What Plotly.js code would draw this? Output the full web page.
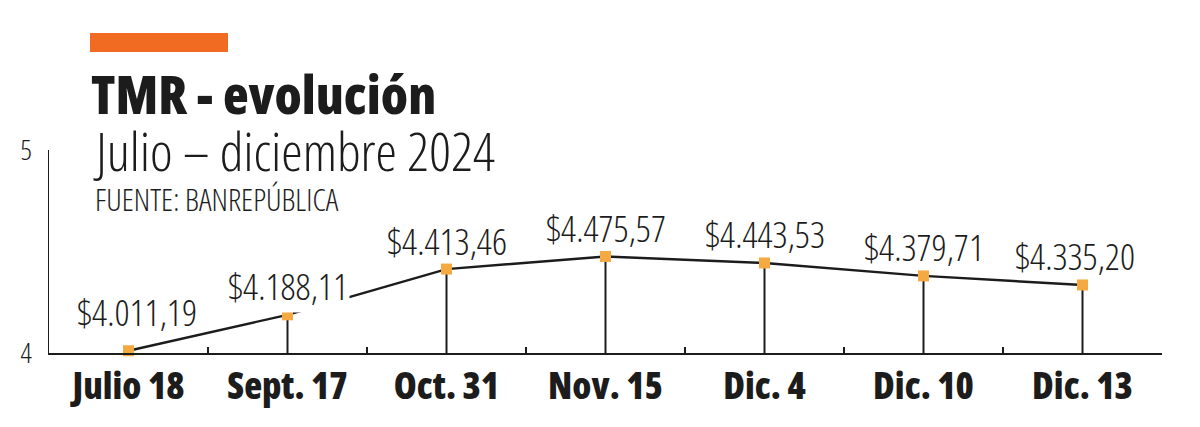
<!DOCTYPE html>
<html>
<head>
<meta charset="utf-8">
<script src="https://cdn.plot.ly/plotly-3.0.1.min.js"></script>
<style>
  html, body { margin: 0; padding: 0; background: #ffffff; }
  #chart { width: 1200px; height: 427px; }
</style>
</head>
<body>
<div id="chart"></div>
<script>
// ---- Data ----
const categories = ["Julio 18", "Sept. 17", "Oct. 31", "Nov. 15", "Dic. 4", "Dic. 10", "Dic. 13"];
const tmrPesos = [4011.19, 4188.11, 4413.46, 4475.57, 4443.53, 4379.71, 4335.20];
const yTickVals = [4, 5];
const yTickText = ["4", "5"];
const titleText = "TMR - evolución";
const subtitleText = "Julio – diciembre 2024";
const sourceText = "FUENTE: BANREPÚBLICA";

// ---- Helpers ----
function fmtCOP(v) {
  const parts = v.toFixed(2).split(".");
  const intPart = parts[0].replace(/\B(?=(\d{3})+(?!\d))/g, ".");
  return "$" + intPart + "," + parts[1];
}
function narrow(txt) {
  return '<span style="font-stretch:75%">' + txt + '</span>';
}
const yThousands = tmrPesos.map(v => v / 1000);
const baseY = yTickVals[0];

const FONT = "'Open Sans', 'Noto Sans', sans-serif";
const INK = "#1c1c1c";

// Plot area in pixels: x 49..1162, y 150..353
const L = 49, R = 1200 - 1162, T = 150, B = 427 - 353;
const PW = 1200 - L - R, PH = 427 - T - B;
const px = x => (x - L) / PW;
const py = y => (353 - y) / PH;

const traces = [
  {
    type: "scatter",
    mode: "lines+markers",
    x: categories,
    y: yThousands,
    line: { color: INK, width: 2.4 },
    marker: { symbol: "square", size: 11, color: "#F4A941" },
    error_y: {
      type: "data",
      symmetric: false,
      array: yThousands.map(() => 0),
      arrayminus: yThousands.map(v => v - baseY),
      width: 0,
      thickness: 2,
      color: INK
    },
    cliponaxis: false,
    hoverinfo: "skip"
  }
];

const annotations = categories.map((c, i) => ({
  x: c,
  y: yThousands[i],
  xref: "x",
  yref: "y",
  text: narrow(fmtCOP(tmrPesos[i])),
  showarrow: false,
  xanchor: "center",
  yanchor: "middle",
  yshift: i === 0 ? 39 : 29,
  xshift: i === 0 ? 8 : (i === categories.length - 1 ? -8 : 0),
  bgcolor: i === 1 ? "#ffffff" : "rgba(0,0,0,0)",
  borderpad: 1,
  font: { family: FONT, size: 37, color: INK, weight: 300 }
}));

annotations.push(
  {
    xref: "paper", yref: "paper",
    x: px(89), y: py(94),
    xanchor: "left", yanchor: "middle", align: "left",
    text: narrow(titleText),
    showarrow: false,
    font: { family: FONT, size: 53, color: INK, weight: 800 }
  },
  {
    xref: "paper", yref: "paper",
    x: px(91), y: py(150),
    xanchor: "left", yanchor: "middle", align: "left",
    text: narrow(subtitleText),
    showarrow: false,
    font: { family: FONT, size: 54, color: INK, weight: 300 }
  },
  {
    xref: "paper", yref: "paper",
    x: px(93), y: py(199),
    xanchor: "left", yanchor: "middle", align: "left",
    text: narrow(sourceText),
    showarrow: false,
    font: { family: FONT, size: 31, color: INK, weight: 300 }
  }
);

const layout = {
  width: 1200,
  height: 427,
  margin: { l: L, r: R, t: T, b: B, pad: 0 },
  paper_bgcolor: "#ffffff",
  plot_bgcolor: "#ffffff",
  showlegend: false,
  xaxis: {
    type: "category",
    range: [-0.5, categories.length - 0.5],
    tickmode: "array",
    tickvals: categories,
    ticktext: categories.map(c => narrow(c)),
    tickson: "boundaries",
    ticks: "inside",
    ticklen: 6,
    tickwidth: 1.5,
    tickcolor: INK,
    tickangle: 0,
    showline: true,
    linecolor: INK,
    linewidth: 2,
    showgrid: false,
    zeroline: false,
    tickfont: { family: FONT, size: 37, color: INK, weight: 800 },
    fixedrange: true
  },
  yaxis: {
    range: [baseY, yTickVals[1]],
    tickmode: "array",
    tickvals: yTickVals,
    ticktext: yTickText.map(t => narrow(t)),
    ticks: "inside",
    ticklen: 29,
    tickwidth: 1.5,
    tickcolor: INK,
    showline: true,
    linecolor: INK,
    linewidth: 1.5,
    showgrid: false,
    zeroline: false,
    tickfont: { family: FONT, size: 28, color: INK, weight: 300 },
    ticklabelstandoff: 10,
    fixedrange: true
  },
  shapes: [
    {
      type: "rect",
      xref: "paper", yref: "paper",
      x0: px(90), x1: px(228),
      y0: py(52), y1: py(33),
      fillcolor: "#F26B22",
      line: { width: 0 }
    }
  ],
  annotations: annotations
};

Plotly.newPlot("chart", traces, layout, { displayModeBar: false, staticPlot: true });
</script>
</body>
</html>
